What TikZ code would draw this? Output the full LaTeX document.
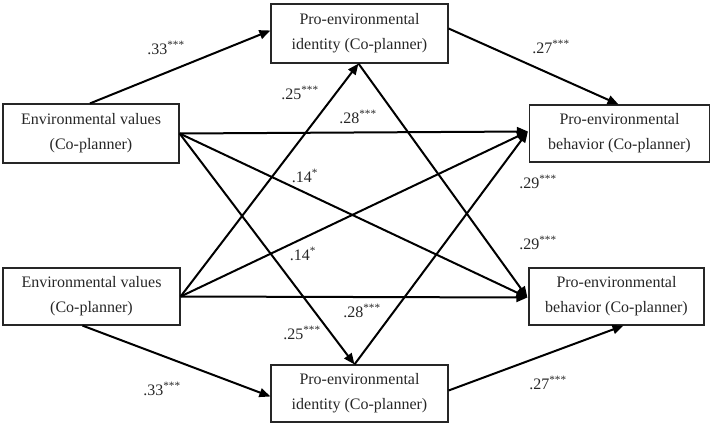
\documentclass[tikz,border=0pt]{standalone}
\usepackage{fontspec}
\setmainfont{Liberation Serif}
\usetikzlibrary{arrows.meta,calc}
\begin{document}
\begin{tikzpicture}[x=1pt,y=-1pt,
  box/.style={draw=black!85,line width=1.2pt,inner sep=0pt,align=center,
    font=\fontsize{16}{25}\selectfont,text=black!85},
  lab/.style={inner sep=0pt,font=\fontsize{16}{19}\selectfont,text=black!85},
  arr/.style={line width=2pt,-{Triangle[length=11pt,width=9pt]}},
  ln/.style={line width=2pt}]
\useasboundingbox (0,0) rectangle (712,428);
\node[box,minimum width=176pt,minimum height=59pt] (ev1) at (91,133.5) {Environmental values\\(Co-planner)};
\node[box,minimum width=177pt,minimum height=57pt] (ev2) at (91.5,296.5) {Environmental values\\(Co-planner)};
\node[box,minimum width=177pt,minimum height=59pt] (pei1) at (359.5,33.5) {Pro-environmental\\identity (Co-planner)};
\node[box,minimum width=177pt,minimum height=57pt] (pei2) at (359.5,393.5) {Pro-environmental\\identity (Co-planner)};
\node[box,minimum width=180pt,minimum height=57pt] (peb1) at (619.5,133.5) {Pro-environmental\\behavior (Co-planner)};
\node[box,minimum width=175pt,minimum height=57pt] (peb2) at (616.5,296.5) {Pro-environmental\\behavior (Co-planner)};

\coordinate (ev1n) at ($(ev1.north)+(-1,0)$);
\coordinate (pei1w) at ($(pei1.west)+(0,-3)$);
\coordinate (pei1e) at ($(pei1.east)+(0,-5)$);
\coordinate (pei1s) at ($(pei1.south)+(-1,0)$);
\coordinate (pei2n) at ($(pei2.north)+(-5,0)$);
\coordinate (pei2w) at ($(pei2.west)+(0,3)$);
\coordinate (pei2e) at ($(pei2.east)+(0,-3)$);
\coordinate (ev2s) at ($(ev2.south)+(-9,0)$);
\coordinate (peb1n) at ($(peb1.north)+(-1,0)$);
\coordinate (peb1w) at ($(peb1.west)+(-1,-2)$);
\coordinate (peb2w) at ($(peb2.west)+(-1,1)$);
\coordinate (peb2s) at ($(peb2.south)+(7,0)$);

\draw[arr] (ev1n) -- (pei1w);
\draw[arr] (pei1e) -- (peb1n);
\draw[arr] (ev1.east) -- (peb1w);
\draw[arr] (ev1.east) -- (peb2w);
\draw[arr] (ev1.east) -- (pei2n);
\draw[arr] (ev2.east) -- (peb1w);
\draw[arr] (ev2.east) -- (peb2w);
\draw[arr] (ev2.east) -- (pei1s);
\draw[arr] (pei1s) -- (peb2w);
\draw[arr] (pei2n) -- (peb1w);
\draw[arr] (ev2s) -- (pei2w);
\draw[arr] (pei2e) -- (peb2s);

\node[lab] (l1) at (166,48) {.33\textsuperscript{***}};
\node[lab] (l2) at (551,47) {.27\textsuperscript{***}};
\node[lab] (l3) at (162,389) {.33\textsuperscript{***}};
\node[lab] (l4) at (548,383) {.27\textsuperscript{***}};
\node[lab] (l5) at (300,93) {.25\textsuperscript{***}};
\node[lab] (l6) at (358,117) {.28\textsuperscript{***}};
\node[lab] (l7) at (305,176) {.14\textsuperscript{*}};
\node[lab] (l8) at (303,254) {.14\textsuperscript{*}};
\node[lab] (l9) at (538,182) {.29\textsuperscript{***}};
\node[lab] (l10) at (538,243) {.29\textsuperscript{***}};
\node[lab] (l11) at (362,311) {.28\textsuperscript{***}};
\node[lab] (l12) at (302,333) {.25\textsuperscript{***}};
\end{tikzpicture}
\end{document}
